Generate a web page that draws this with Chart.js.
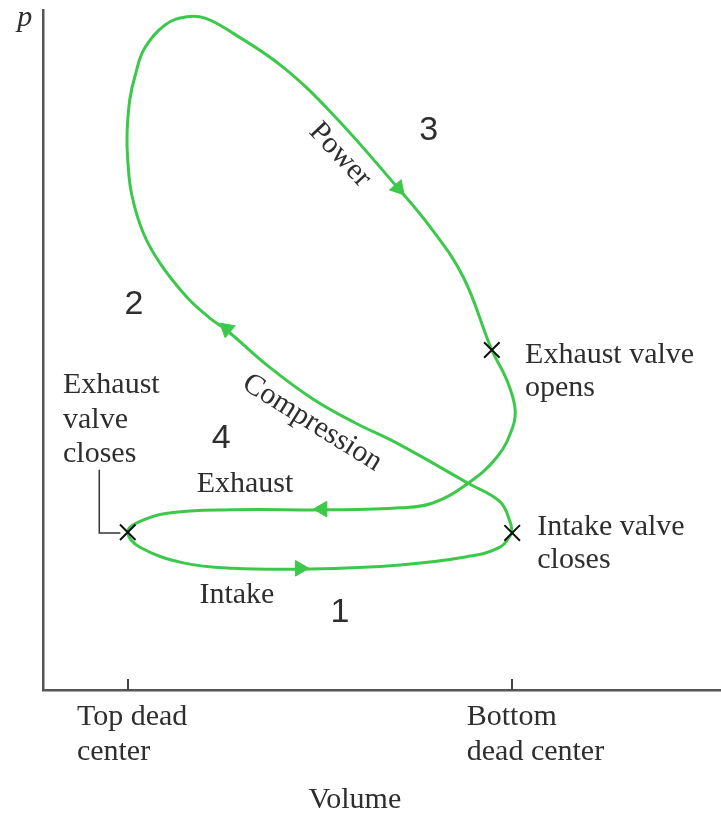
<!DOCTYPE html>
<html>
<head>
<meta charset="utf-8">
<script src="https://cdn.jsdelivr.net/npm/chart.js@4.4.1/dist/chart.umd.min.js"></script>
<style>
  html, body { margin: 0; padding: 0; background: #fff; }
  #pv { display: block; }
</style>
</head>
<body>
<canvas id="pv" width="721" height="813"></canvas>
<script>
// four-stroke p-V loop, arbitrary units (0-100 on both axes)
// traced from intake valve closing, through compression, power, exhaust, intake
const volume = [69.2, 68.9, 67.4, 62.7, 52.2, 46.0, 39.8, 33.5, 27.1, 24.6, 21.2, 17.3, 14.8, 13.1, 12.5, 12.4, 12.8, 13.6, 15.0, 18.0, 21.2, 23.9, 28.0, 35.4, 42.8, 52.2, 57.1, 62.0, 66.2, 68.4, 69.6, 69.3, 67.0, 62.7, 57.5, 52.7, 42.3, 28.0, 18.3, 13.9, 12.5, 14.3, 20.7, 28.0, 39.4, 52.7, 62.5, 67.4, 69.2];
const pressure = [23.1, 24.7, 27.7, 30.4, 36.3, 39.3, 42.8, 47.4, 52.9, 54.7, 57.8, 62.7, 67.2, 72.8, 77.9, 81.9, 86.8, 90.4, 94.4, 97.8, 99.0, 98.8, 96.6, 91.6, 84.6, 74.0, 68.1, 60.7, 50.0, 45.6, 41.6, 38.7, 34.3, 30.4, 27.5, 26.8, 26.5, 26.5, 26.0, 24.6, 23.2, 21.0, 18.7, 17.9, 17.8, 18.4, 19.6, 21.0, 23.1];

// valve events marked with a cross
const eventNames = ['Exhaust valve closes', 'Intake valve closes', 'Exhaust valve opens'];
const eventVolume = [12.5, 69.2, 66.2];
const eventPressure = [23.2, 23.1, 50.0];

// direction arrows, one per stroke
const strokeNames = ['Power', 'Compression', 'Exhaust', 'Intake'];
const arrowVolume = [52.4, 27.1, 41.2, 37.9];
const arrowPressure = [73.8, 53.1, 26.6, 17.9];
const arrowAngle = [139, 310, 270, 90];

// x axis marks
const deadCenterVolume = [12.5, 69.2];

const green = '#3cc94b';
const ink = '#2e2e2e';
const serif = '"Liberation Serif", "Times New Roman", serif';
const sans = '"Liberation Sans", Arial, sans-serif';

const notes = [
  { text: 'p', x: -3.8, y: 97.6, font: 'italic 30px ' + serif, align: 'left' },
  { text: '3', x: 56.9, y: 80.9, font: '34px ' + sans, align: 'center' },
  { text: '2', x: 13.4, y: 55.3, font: '34px ' + sans, align: 'center' },
  { text: '4', x: 26.3, y: 35.6, font: '34px ' + sans, align: 'center' },
  { text: '1', x: 43.8, y: 10.0, font: '34px ' + sans, align: 'center' },
  { text: 'Power', x: 43.8, y: 78.7, font: '30px ' + serif, align: 'center', base: 'middle', angle: 47 },
  { text: 'Compression', x: 39.7, y: 39.3, font: '30px ' + serif, align: 'center', base: 'middle', angle: 32 },
  { text: 'Exhaust', x: 29.8, y: 29.1, font: '30px ' + serif, align: 'center' },
  { text: 'Intake', x: 28.6, y: 12.8, font: '30px ' + serif, align: 'center' },
  { text: 'Exhaust', x: 2.95, y: 43.7, font: '30px ' + serif, align: 'left' },
  { text: 'valve', x: 2.95, y: 38.5, font: '30px ' + serif, align: 'left' },
  { text: 'closes', x: 2.95, y: 33.5, font: '30px ' + serif, align: 'left' },
  { text: 'Exhaust valve', x: 71.1, y: 48.1, font: '30px ' + serif, align: 'left' },
  { text: 'opens', x: 71.1, y: 43.2, font: '30px ' + serif, align: 'left' },
  { text: 'Intake valve', x: 72.9, y: 22.8, font: '30px ' + serif, align: 'left' },
  { text: 'closes', x: 72.9, y: 17.9, font: '30px ' + serif, align: 'left' },
  { text: 'Top dead', x: 5.0, y: -5.1, font: '30px ' + serif, align: 'left' },
  { text: 'center', x: 5.0, y: -10.3, font: '30px ' + serif, align: 'left' },
  { text: 'Bottom', x: 62.5, y: -5.1, font: '30px ' + serif, align: 'left' },
  { text: 'dead center', x: 62.5, y: -10.3, font: '30px ' + serif, align: 'left' },
  { text: 'Volume', x: 46.0, y: -17.4, font: '30px ' + serif, align: 'center' },
];

const notesPlugin = {
  id: 'notes',
  afterDraw(chart) {
    const { ctx, scales: { x, y }, chartArea } = chart;
    ctx.save();
    // short ticks standing on the volume axis
    ctx.strokeStyle = '#444';
    ctx.lineWidth = 2;
    deadCenterVolume.forEach(v => {
      const px = Math.round(x.getPixelForValue(v));
      ctx.beginPath();
      ctx.moveTo(px, chartArea.bottom);
      ctx.lineTo(px, chartArea.bottom - 11);
      ctx.stroke();
    });
    ctx.fillStyle = ink;
    notes.forEach(n => {
      ctx.save();
      ctx.translate(x.getPixelForValue(n.x), y.getPixelForValue(n.y));
      if (n.angle) ctx.rotate(n.angle * Math.PI / 180);
      ctx.font = n.font;
      ctx.textAlign = n.align;
      ctx.textBaseline = n.base || 'alphabetic';
      ctx.fillText(n.text, 0, 0);
      ctx.restore();
    });
    ctx.restore();
  }
};

// hidden ticks still reserve a little room; drop it so the axes sit on the padding
function flatten(scale) {
  if (scale.isHorizontal()) scale.height = 0;
  else scale.width = 0;
  scale.paddingLeft = 0;
  scale.paddingRight = 0;
  scale.paddingTop = 0;
  scale.paddingBottom = 0;
}

new Chart(document.getElementById('pv'), {
  type: 'scatter',
  plugins: [notesPlugin],
  data: {
    datasets: [
      {
        label: 'Valve events',
        data: eventVolume.map((v, i) => ({ x: v, y: eventPressure[i] })),
        pointStyle: 'crossRot',
        pointRadius: 11,
        borderColor: '#111',
        borderWidth: 2,
        showLine: false,
      },
      {
        label: 'Strokes',
        data: arrowVolume.map((v, i) => ({ x: v, y: arrowPressure[i] })),
        pointStyle: 'triangle',
        pointRotation: arrowAngle,
        pointRadius: 9,
        backgroundColor: green,
        borderColor: green,
        borderWidth: 1,
        showLine: false,
      },
      {
        label: 'p-V loop',
        data: volume.map((v, i) => ({ x: v, y: pressure[i] })),
        showLine: true,
        borderColor: green,
        borderWidth: 3,
        pointRadius: 0,
        tension: 0.4,
        fill: false,
      },
      {
        label: 'leader',
        data: [{ x: 8.3, y: 32.4 }, { x: 8.3, y: 23.1 }, { x: 11.4, y: 23.1 }],
        showLine: true,
        borderColor: '#333',
        borderWidth: 1.5,
        pointRadius: 0,
        tension: 0,
      },
    ]
  },
  options: {
    responsive: false,
    animation: false,
    layout: {
      autoPadding: false,
      padding: { left: 43, top: 10, right: 0, bottom: 123 },
    },
    plugins: {
      legend: { display: false },
      tooltip: { enabled: false },
    },
    scales: {
      x: {
        min: 0,
        max: 100,
        ticks: { display: false },
        grid: { display: false },
        border: { color: '#555', width: 2.5 },
        afterFit: flatten,
      },
      y: {
        min: 0,
        max: 100,
        ticks: { display: false },
        grid: { display: false },
        border: { color: '#555', width: 2.5 },
        afterFit: flatten,
      },
    },
  },
});
</script>
</body>
</html>
